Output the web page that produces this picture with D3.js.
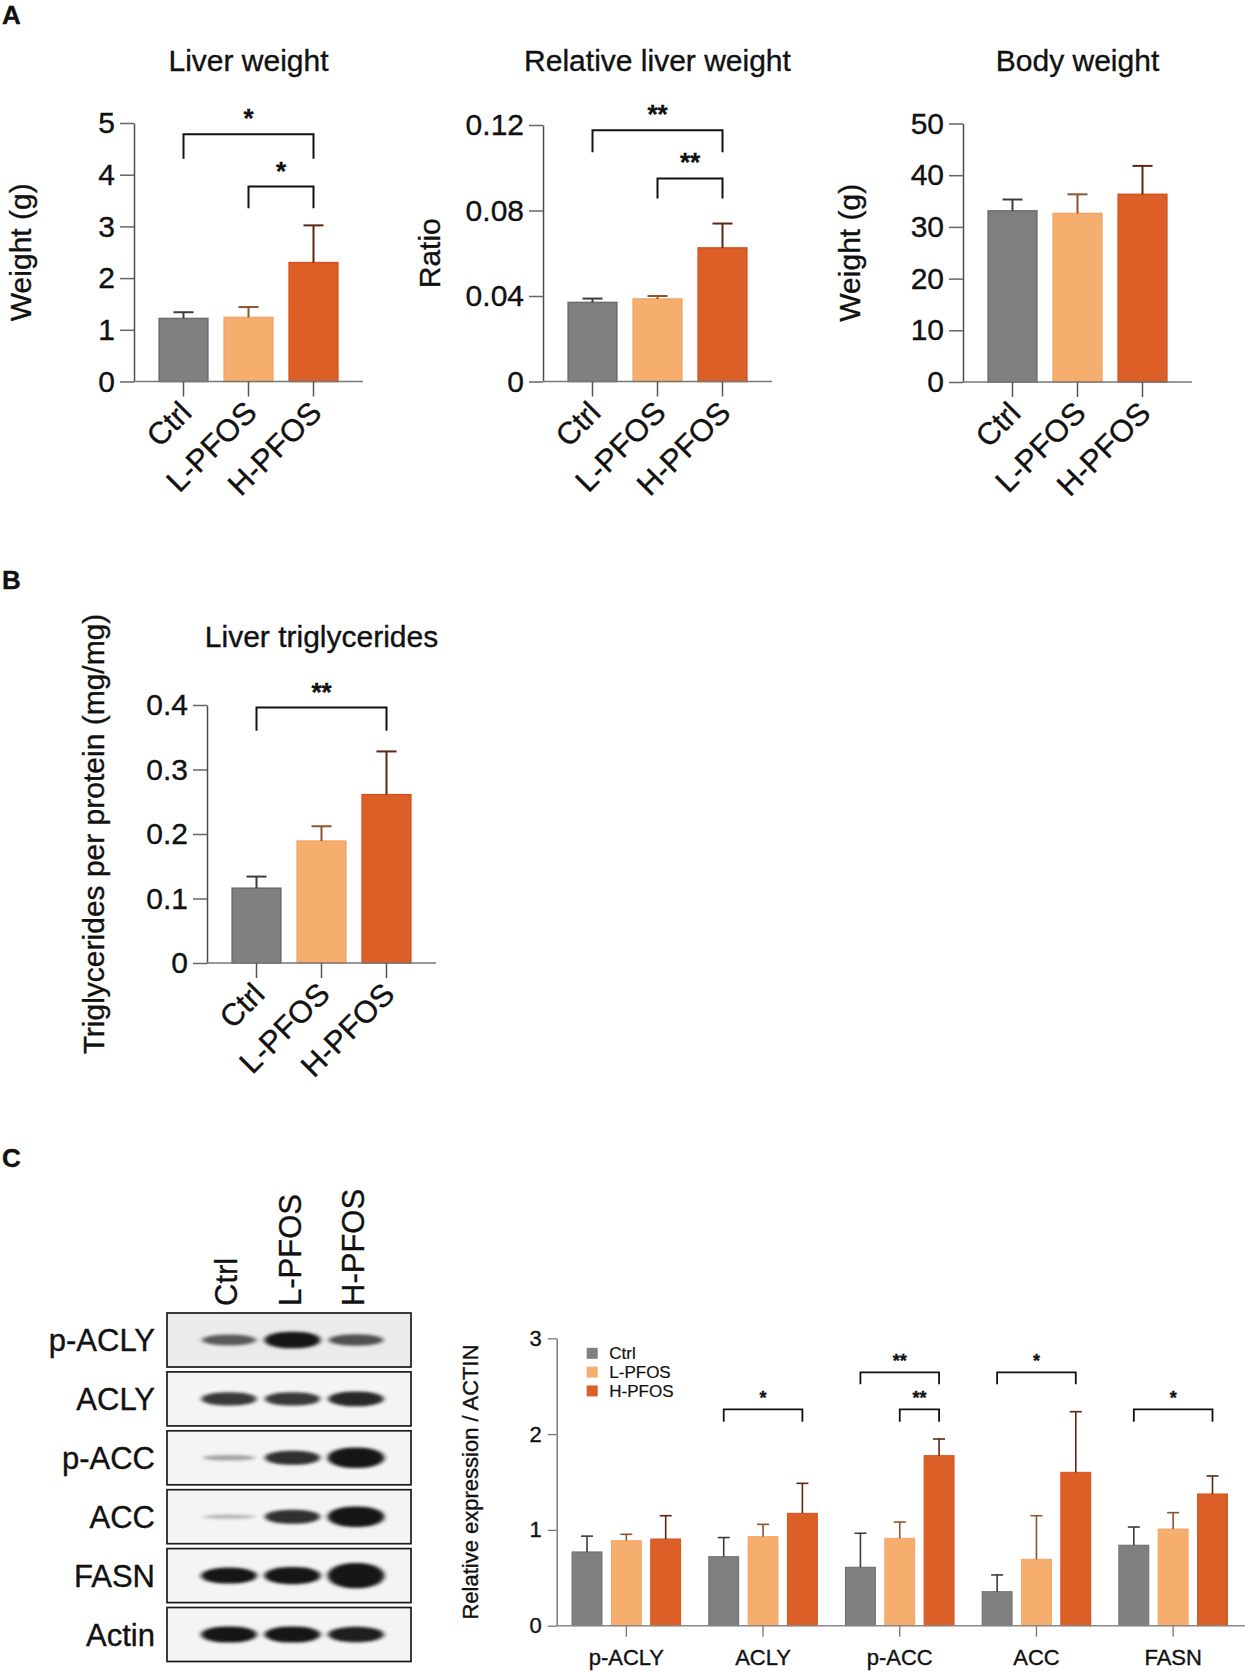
<!DOCTYPE html>
<html>
<head>
<meta charset="utf-8">
<title>PFOS liver figure</title>
<script src="https://d3js.org/d3.v7.min.js"></script>
<style>
  body { margin: 0; background: #fff; }
  svg text { font-family: "Liberation Sans", Arial, Helvetica, sans-serif; fill: #111; stroke: #111; stroke-width: 0.35px; }
</style>
</head>
<body>
<script>
// groups shared by every panel
var groups = ["Ctrl", "L-PFOS", "H-PFOS"];
var barFill = ["#808080", "#f5ae6e", "#dc5f27"];
var barEdge = ["#6c6c6c", "#f2a565", "#d4521c"];
var errColor = ["#3c3c3c", "#8a5530", "#5e2610"];

// A: liver weight (g), mean and SD
var liverWeight = [1.22, 1.24, 2.30];
var liverWeightSD = [0.12, 0.20, 0.72];
var liverWeightTicks = [0, 1, 2, 3, 4, 5];
var liverWeightSig = [
  {a: 0, b: 2, level: 4.78, drop: 4.31, label: "*"},
  {a: 1, b: 2, level: 3.77, drop: 3.35, label: "*"}
];

// A: relative liver weight (ratio)
var relLiver = [0.0370, 0.0386, 0.0625];
var relLiverSD = [0.0018, 0.0014, 0.0114];
var relLiverTicks = [0, 0.04, 0.08, 0.12];
var relLiverSig = [
  {a: 0, b: 2, level: 0.1175, drop: 0.1073, label: "**"},
  {a: 1, b: 2, level: 0.0950, drop: 0.0856, label: "**"}
];

// A: body weight (g)
var bodyWeight = [33.1, 32.6, 36.3];
var bodyWeightSD = [2.2, 3.7, 5.5];
var bodyWeightTicks = [0, 10, 20, 30, 40, 50];

// B: liver triglycerides (mg/mg protein)
var trig = [0.116, 0.189, 0.261];
var trigSD = [0.018, 0.023, 0.067];
var trigTicks = [0, 0.1, 0.2, 0.3, 0.4];
var trigSig = [{a: 0, b: 2, level: 0.396, drop: 0.360, label: "**"}];

// C: western blot quantification, relative to actin
var proteins = ["p-ACLY", "ACLY", "p-ACC", "ACC", "FASN"];
var exprCtrl = [0.77, 0.72, 0.61, 0.355, 0.84];
var exprCtrlSD = [0.165, 0.20, 0.355, 0.175, 0.19];
var exprL = [0.887, 0.929, 0.912, 0.693, 1.009];
var exprLSD = [0.067, 0.129, 0.17, 0.455, 0.171];
var exprH = [0.905, 1.173, 1.775, 1.601, 1.375];
var exprHSD = [0.243, 0.313, 0.174, 0.633, 0.188];
var exprTicks = [0, 1, 2, 3];
var exprSig = [
  {p: "ACLY", a: 0, b: 2, level: 2.258, drop: 2.13, label: "*"},
  {p: "p-ACC", a: 0, b: 2, level: 2.645, drop: 2.52, label: "**"},
  {p: "p-ACC", a: 1, b: 2, level: 2.258, drop: 2.13, label: "**"},
  {p: "ACC", a: 0, b: 2, level: 2.645, drop: 2.52, label: "*"},
  {p: "FASN", a: 0, b: 2, level: 2.258, drop: 2.13, label: "*"}
];

// C: blot rows and relative band signal per lane
var blotRows = ["p-ACLY", "ACLY", "p-ACC", "ACC", "FASN", "Actin"];
var blotSignal = [
  [0.6, 1.05, 0.65],
  [0.8, 0.8, 0.9],
  [0.2, 0.85, 1.35],
  [0.1, 0.85, 1.35],
  [1.0, 1.1, 1.7],
  [1.0, 1.0, 0.95]
];

var W = 1245, H = 1672;
var svg = d3.select("body").append("svg")
  .attr("width", W)
  .attr("height", H);

var defs = svg.append("defs");
defs.append("filter")
  .attr("id", "blur")
  .attr("x", "-20%").attr("y", "-100%")
  .attr("width", "140%").attr("height", "300%")
  .append("feGaussianBlur")
  .attr("stdDeviation", "2.4 1.6");

function panelLabel(t, x, y) {
  svg.append("text")
    .attr("x", x).attr("y", y)
    .attr("font-size", "26px")
    .attr("font-weight", "bold")
    .text(t);
}

function bracket(g, x1, x2, yLevel, yDrop, label, fs, lift, sw) {
  g.append("path")
    .attr("d", "M" + x1 + "," + yDrop + "V" + yLevel + "H" + x2 + "V" + yDrop)
    .attr("fill", "none")
    .attr("stroke", "#111")
    .attr("stroke-width", sw);
  g.append("text")
    .attr("x", (x1 + x2) / 2)
    .attr("y", yLevel - lift)
    .attr("text-anchor", "middle")
    .attr("font-size", fs + "px")
    .attr("font-weight", "bold")
    .text(label);
}

// small three-bar charts of panels A and B
function smallChart(o) {
  var g = svg.append("g");
  var y = d3.scaleLinear().domain([0, o.max]).range([o.y0, o.yTop]);
  var x = d3.scaleBand().domain(groups)
    .range([o.ax + 17, o.ax + 212])
    .paddingInner(0.25).paddingOuter(0.125);

  g.selectAll(".bar")
    .data(o.values)
    .enter()
    .append("rect")
    .attr("x", function(d, i) { return x(groups[i]); })
    .attr("width", x.bandwidth())
    .attr("y", function(d) { return y(d); })
    .attr("height", function(d) { return o.y0 - y(d); })
    .attr("fill", function(d, i) { return barFill[i]; })
    .attr("stroke", function(d, i) { return barEdge[i]; })
    .attr("stroke-width", 1.5);

  var cx = function(i) { return x(groups[i]) + x.bandwidth() / 2; };
  o.values.forEach(function(v, i) {
    var top = y(v + o.sd[i]);
    g.append("line")
      .attr("x1", cx(i)).attr("x2", cx(i))
      .attr("y1", y(v)).attr("y2", top)
      .attr("stroke", errColor[i]).attr("stroke-width", 2);
    g.append("line")
      .attr("x1", cx(i) - 10).attr("x2", cx(i) + 10)
      .attr("y1", top).attr("y2", top)
      .attr("stroke", errColor[i]).attr("stroke-width", 2);
  });

  // y axis
  var yAxis = g.append("g")
    .attr("transform", "translate(" + o.ax + ",0)")
    .call(d3.axisLeft(y).tickValues(o.ticks).tickSize(14).tickSizeOuter(0)
      .tickPadding(5).tickFormat(o.fmt));
  yAxis.select(".domain").attr("stroke", "#4d4d4d").attr("stroke-width", 1.5);
  yAxis.selectAll(".tick line").attr("stroke", "#666").attr("stroke-width", 1.5);
  yAxis.selectAll(".tick text")
    .attr("font-size", "30px")
    .attr("fill", "#111")
    .attr("font-family", "Liberation Sans, Arial, sans-serif");

  // x baseline and category ticks
  g.append("line")
    .attr("x1", o.ax).attr("x2", o.ax + 229)
    .attr("y1", o.y0).attr("y2", o.y0)
    .attr("stroke", "#777").attr("stroke-width", 1.5);
  var xAxis = g.append("g")
    .attr("transform", "translate(0," + o.y0 + ")")
    .call(d3.axisBottom(x).tickSize(15).tickSizeOuter(0));
  xAxis.select(".domain").remove();
  xAxis.selectAll(".tick line").attr("stroke", "#555").attr("stroke-width", 1.5);
  xAxis.selectAll(".tick text")
    .attr("y", null).attr("dy", null)
    .attr("text-anchor", "end")
    .attr("transform", "translate(10,33) rotate(-45)")
    .attr("font-size", "31px")
    .attr("fill", "#111")
    .attr("font-family", "Liberation Sans, Arial, sans-serif");

  // title and y label
  g.append("text")
    .attr("x", o.ax + 114.5).attr("y", o.titleY)
    .attr("text-anchor", "middle")
    .attr("font-size", "30px")
    .text(o.title);
  g.append("text")
    .attr("transform", "translate(" + (o.ax - 103) + "," + ((o.y0 + o.yTop) / 2) + ") rotate(-90)")
    .attr("text-anchor", "middle")
    .attr("font-size", "30px")
    .text(o.ylabel);

  (o.sig || []).forEach(function(s) {
    bracket(g, cx(s.a), cx(s.b), y(s.level), y(s.drop), s.label, 26, 7, 2);
  });
}

panelLabel("A", 2, 24);
panelLabel("B", 2, 589);
panelLabel("C", 2, 1167);

smallChart({ax: 134, y0: 381.5, yTop: 123, max: 5, ticks: liverWeightTicks,
  fmt: d3.format("d"), values: liverWeight, sd: liverWeightSD,
  title: "Liver weight", titleY: 71, ylabel: "Weight (g)", sig: liverWeightSig});

smallChart({ax: 543, y0: 381.5, yTop: 125, max: 0.12, ticks: relLiverTicks,
  fmt: function(d) { return d === 0 ? "0" : d3.format(".2f")(d); },
  values: relLiver, sd: relLiverSD,
  title: "Relative liver weight", titleY: 71, ylabel: "Ratio", sig: relLiverSig});

smallChart({ax: 963, y0: 382, yTop: 123.5, max: 50, ticks: bodyWeightTicks,
  fmt: d3.format("d"), values: bodyWeight, sd: bodyWeightSD,
  title: "Body weight", titleY: 71, ylabel: "Weight (g)"});

smallChart({ax: 207, y0: 963, yTop: 705, max: 0.4, ticks: trigTicks,
  fmt: function(d) { return d === 0 ? "0" : d3.format(".1f")(d); },
  values: trig, sd: trigSD,
  title: "Liver triglycerides", titleY: 647, ylabel: "Triglycerides per protein (mg/mg)", sig: trigSig});

// C: blot
var blot = svg.append("g");
var rowY = d3.scaleBand().domain(blotRows).range([1313, 1661.5])
  .paddingInner(0.083).paddingOuter(0);
var laneX = d3.scalePoint().domain(groups).range([229, 356]);
var boxL = 167, boxR = 411;

blotRows.forEach(function(r, ri) {
  var top = rowY(r), hgt = rowY.bandwidth(), mid = top + hgt / 2;
  blot.append("rect")
    .attr("x", boxL).attr("y", top)
    .attr("width", boxR - boxL).attr("height", hgt)
    .attr("fill", ri === 0 ? "#ebebeb" : "#f4f4f4")
    .attr("stroke", "#1a1a1a").attr("stroke-width", 1.7);
  blotSignal[ri].forEach(function(s, li) {
    var bh = 3 + 13 * s;
    var bw = 52 + 4 * Math.min(s, 1.2);
    blot.append("rect")
      .attr("x", laneX(groups[li]) - bw / 2)
      .attr("y", mid - bh / 2)
      .attr("width", bw).attr("height", bh)
      .attr("rx", bw / 2.2).attr("ry", bh / 2)
      .attr("fill", "#161616")
      .attr("opacity", Math.min(1, 0.2 + 0.8 * s))
      .attr("filter", "url(#blur)");
  });
  blot.append("text")
    .attr("x", 155).attr("y", mid)
    .attr("dy", "0.36em")
    .attr("text-anchor", "end")
    .attr("font-size", "31px")
    .text(r);
});

groups.forEach(function(gname) {
  blot.append("text")
    .attr("transform", "translate(" + (laneX(gname) + 8) + ",1306) rotate(-90)")
    .attr("text-anchor", "start")
    .attr("font-size", "31px")
    .text(gname);
});

// C: quantification chart
var cAx = 556.7, cY0 = 1625.7, cTop = 1338.3;
var cg = svg.append("g");
var yC = d3.scaleLinear().domain([0, 3]).range([cY0, cTop]);
var x0 = d3.scaleBand().domain(proteins).range([cAx + 1.3, cAx + 1.3 + 5 * 136.7]);
var x1 = d3.scaleBand().domain(groups).range([-59, 59]).paddingInner(0.24).paddingOuter(0.12);
var seriesVals = [exprCtrl, exprL, exprH];
var seriesSD = [exprCtrlSD, exprLSD, exprHSD];

function gc(p) { return x0(p) + x0.bandwidth() / 2; }
function bc(p, gi) { return gc(p) + x1(groups[gi]) + x1.bandwidth() / 2; }

seriesVals.forEach(function(vals, gi) {
  cg.selectAll(".s" + gi)
    .data(vals)
    .enter()
    .append("rect")
    .attr("x", function(d, i) { return gc(proteins[i]) + x1(groups[gi]); })
    .attr("width", x1.bandwidth())
    .attr("y", function(d) { return yC(d); })
    .attr("height", function(d) { return cY0 - yC(d); })
    .attr("fill", barFill[gi])
    .attr("stroke", barEdge[gi])
    .attr("stroke-width", 1);
  vals.forEach(function(v, i) {
    var cx = bc(proteins[i], gi), top = yC(v + seriesSD[gi][i]);
    cg.append("line")
      .attr("x1", cx).attr("x2", cx).attr("y1", yC(v)).attr("y2", top)
      .attr("stroke", errColor[gi]).attr("stroke-width", 1.6);
    cg.append("line")
      .attr("x1", cx - 6).attr("x2", cx + 6).attr("y1", top).attr("y2", top)
      .attr("stroke", errColor[gi]).attr("stroke-width", 1.6);
  });
});

var cyAxis = cg.append("g")
  .attr("transform", "translate(" + cAx + ",0)")
  .call(d3.axisLeft(yC).tickValues(exprTicks).tickSize(9).tickSizeOuter(0)
    .tickPadding(6).tickFormat(d3.format("d")));
cyAxis.select(".domain").attr("stroke", "#666").attr("stroke-width", 1.3);
cyAxis.selectAll(".tick line").attr("stroke", "#777").attr("stroke-width", 1.3);
cyAxis.selectAll(".tick text")
  .attr("font-size", "22px").attr("fill", "#111")
  .attr("font-family", "Liberation Sans, Arial, sans-serif");

cg.append("line")
  .attr("x1", cAx).attr("x2", W)
  .attr("y1", cY0).attr("y2", cY0)
  .attr("stroke", "#888").attr("stroke-width", 1.5);
var cxAxis = cg.append("g")
  .attr("transform", "translate(0," + cY0 + ")")
  .call(d3.axisBottom(x0).tickSize(11).tickSizeOuter(0).tickPadding(13));
cxAxis.select(".domain").remove();
cxAxis.selectAll(".tick line").attr("stroke", "#777").attr("stroke-width", 1.3);
cxAxis.selectAll(".tick text")
  .attr("font-size", "22px").attr("fill", "#111")
  .attr("font-family", "Liberation Sans, Arial, sans-serif");

cg.append("text")
  .attr("transform", "translate(" + (cAx - 79) + "," + ((cY0 + cTop) / 2) + ") rotate(-90)")
  .attr("text-anchor", "middle")
  .attr("font-size", "22px")
  .text("Relative expression / ACTIN");

// legend
var leg = cg.append("g").attr("transform", "translate(" + (cAx + 30) + "," + (cTop + 15) + ")");
groups.forEach(function(gname, gi) {
  leg.append("rect")
    .attr("x", 0).attr("y", gi * 18.8 - 5.5)
    .attr("width", 11).attr("height", 11)
    .attr("fill", barFill[gi]);
  leg.append("text")
    .attr("x", 22.6).attr("y", gi * 18.8 + 6)
    .attr("font-size", "17px")
    .style("stroke-width", "0.2px")
    .text(gname);
});

exprSig.forEach(function(s) {
  bracket(cg, bc(s.p, s.a), bc(s.p, s.b), yC(s.level), yC(s.drop), s.label, 18, 5, 1.8);
});
</script>
</body>
</html>
